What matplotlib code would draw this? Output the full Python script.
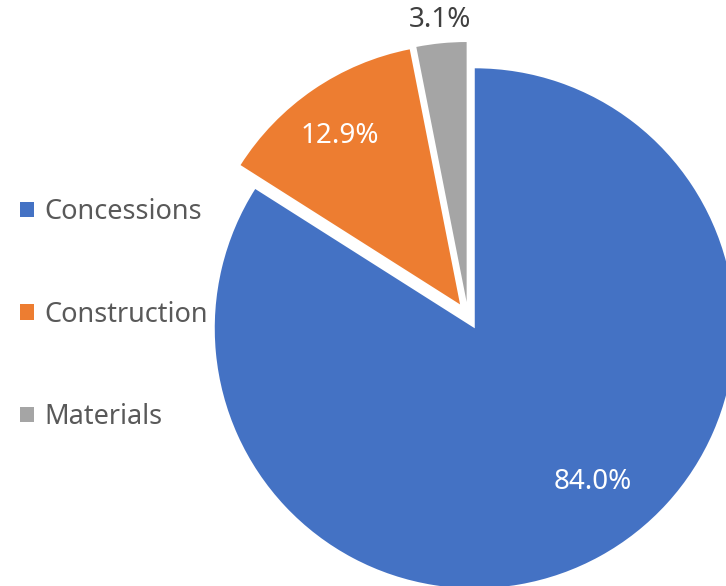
import matplotlib
matplotlib.use("Agg")
import matplotlib.pyplot as plt

segments = ["Concessions", "Construction", "Materials"]
shares = [84.0, 12.9, 3.1]
colors = ["#4472C4", "#ED7D31", "#A5A5A5"]
label_pos = [(0.481, -0.638), (-0.492, 0.692), (-0.108, 1.138)]
label_colors = ["white", "white", "#404040"]

plt.rcParams['font.family'] = ['Noto Sans', 'DejaVu Sans']

fig = plt.figure(figsize=(7.26, 5.86), dpi=100)
ax = fig.add_axes([0, 0, 1, 1])

wedges, texts, autotexts = ax.pie(shares, colors=colors, startangle=90,
                                  counterclock=False, explode=[0.054] * 3,
                                  autopct="%.1f%%", radius=1.0)

for t, pos, c in zip(autotexts, label_pos, label_colors):
	t.set_position(pos)
	t.set_color(c)
	t.set_fontsize(20)
	t.set_ha("center")
	t.set_va("center")

ax.set_xlim(-468 / 260, 258 / 260)
ax.set_ylim(-270 / 260, 316 / 260)
ax.set_aspect("auto")
ax.axis("off")

leg = ax.legend(wedges, segments, loc="center left",
                bbox_to_anchor=(20 / 726, 1 - 314.5 / 586),
                bbox_transform=fig.transFigure, frameon=False,
                fontsize=19.5, handlelength=0.5, handleheight=0.5,
                handletextpad=0.4, labelspacing=2.75,
                borderpad=0, borderaxespad=0)
for t in leg.get_texts():
	t.set_color("#595959")

fig.savefig("out.png", dpi=100)
